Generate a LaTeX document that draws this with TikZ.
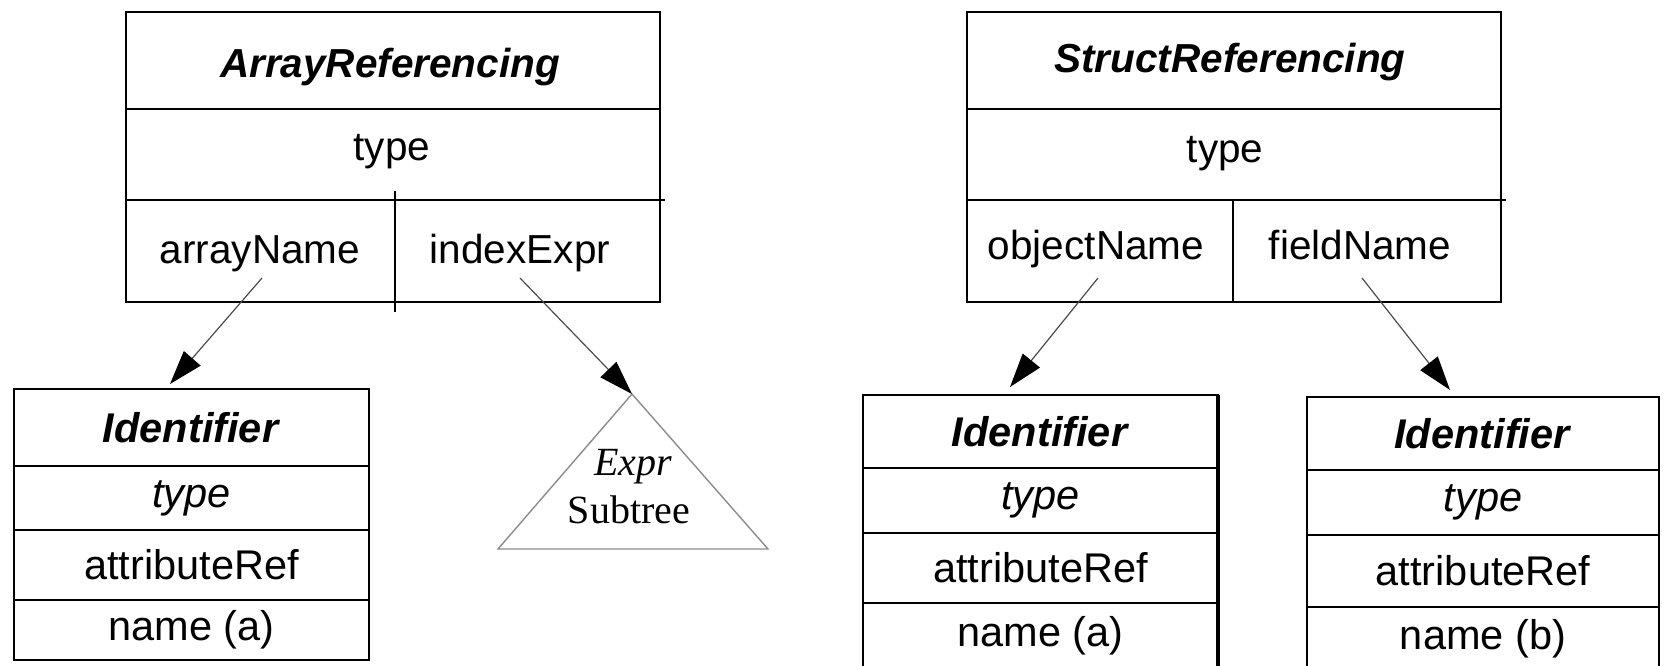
\documentclass[tikz,border=0pt]{standalone}
\usepackage{fontspec}
\setmainfont{Liberation Sans}
\newfontfamily\serifface{Liberation Serif}
\usetikzlibrary{arrows.meta}
\begin{document}
\begin{tikzpicture}[x=1pt,y=-1pt,
  cell/.style={draw=black, line width=2pt, rectangle, inner sep=0pt, outer sep=0pt},
  topfont/.style={font=\fontsize{40.5}{42}\selectfont},
  idfont/.style={font=\fontsize{41.5}{43}\selectfont},
  txt/.style={inner sep=0pt, anchor=base},
  conn/.style={draw=black!70, line width=1.2pt, -{Triangle[length=34pt,width=22pt,black]}},
  tri/.style={draw=black!45, line width=1.4pt}
]
\useasboundingbox (0,0) rectangle (1669,665);
\fill[white] (0,0) rectangle (1669,665);

% ---- ArrayReferencing
\node[cell, minimum width=534pt, minimum height=97pt] (arT) at (393,60.5) {};
\node[cell, minimum width=534pt, minimum height=91pt] (arTy) at (393,154.5) {};
\node[cell, minimum width=269pt, minimum height=102pt] (arA) at (260.5,251) {};
\node[cell, minimum width=265pt, minimum height=102pt] (arB) at (527.5,251) {};
\node[txt, topfont] (arTt) at (390,77) {\textbf{\textit{ArrayReferencing}}};
\node[txt, topfont] (arTyt) at (392,160) {type};
\node[txt, topfont] (arAn) at (260,263) {arrayName};
\node[txt, topfont] (arBn) at (520,263) {indexExpr};
\draw[line width=2pt] (arA.north east) ++(0,-9) -- (arA.south east) -- ++(0,10);
\draw[line width=2pt] (arB.north east) -- ++(5,0);

% ---- StructReferencing
\node[cell, minimum width=534pt, minimum height=97pt] (stT) at (1234,60.5) {};
\node[cell, minimum width=534pt, minimum height=91pt] (stTy) at (1234,154.5) {};
\node[cell, minimum width=266pt, minimum height=102pt] (stA) at (1100,251) {};
\node[cell, minimum width=268pt, minimum height=102pt] (stB) at (1367,251) {};
\node[txt, topfont] (stTt) at (1230,72) {\textbf{\textit{StructReferencing}}};
\node[txt, topfont] (stTyt) at (1225,162) {type};
\node[txt, topfont] (stAn) at (1096,259) {objectName};
\node[txt, topfont] (stBn) at (1360,259) {fieldName};
\draw[line width=2pt] (stB.north east) -- ++(5,0);

% ---- Identifier (left)
\node[cell, idfont, minimum width=355pt, minimum height=77pt] (i1a) at (191.5,427.5) {\textbf{\textit{Identifier}}};
\node[cell, idfont, minimum width=355pt, minimum height=64pt] (i1b) at (191.5,498) {\textit{type}};
\node[cell, idfont, minimum width=355pt, minimum height=70pt] (i1c) at (191.5,565) {attributeRef};
\node[cell, idfont, minimum width=355pt, minimum height=60pt] (i1d) at (191.5,630) {name (a)};

% ---- Identifier (middle)
\node[cell, idfont, minimum width=355pt, minimum height=73pt] (i2a) at (1040.5,431.5) {\textbf{\textit{Identifier}}};
\node[cell, idfont, minimum width=355pt, minimum height=65pt] (i2b) at (1040.5,500.5) {\textit{type}};
\node[cell, idfont, minimum width=355pt, minimum height=70pt] (i2c) at (1040.5,568) {attributeRef};
\node[cell, idfont, minimum width=355pt, minimum height=66pt] (i2d) at (1040.5,636) {name (a)};
\draw[line width=3.5pt] (i2a.north east) -- (i2d.south east);

% ---- Identifier (right)
\node[cell, idfont, minimum width=352pt, minimum height=73pt] (i3a) at (1483,433.5) {\textbf{\textit{Identifier}}};
\node[cell, idfont, minimum width=352pt, minimum height=65pt] (i3b) at (1483,502.5) {\textit{type}};
\node[cell, idfont, minimum width=352pt, minimum height=72pt] (i3c) at (1483,571) {attributeRef};
\node[cell, idfont, minimum width=352pt, minimum height=64pt] (i3d) at (1483,639) {name (b)};

% ---- Expr subtree triangle
\coordinate (apex) at (632,394);
\draw[tri] (apex) -- (768,549) -- (498,549) -- cycle;
\node[inner sep=0pt, font=\serifface\fontsize{40}{42}\selectfont\itshape] (exprT) at (633,467) {Expr};
\node[inner sep=0pt, font=\serifface\fontsize{40}{42}\selectfont] (subT) at (629,510) {Subtree};

% ---- connector end points
\coordinate (tipA) at (170,384);
\coordinate (tipB) at (1010,387);
\coordinate (tipC) at (1450,390);

\draw[conn] (arAn.base) ++(2,15) -- (tipA);
\draw[conn] (arBn.base) ++(0,15) -- (apex);
\draw[conn] (stAn.base) ++(2,19) -- (tipB);
\draw[conn] (stBn.base) ++(2,19) -- (tipC);
\end{tikzpicture}
\end{document}
